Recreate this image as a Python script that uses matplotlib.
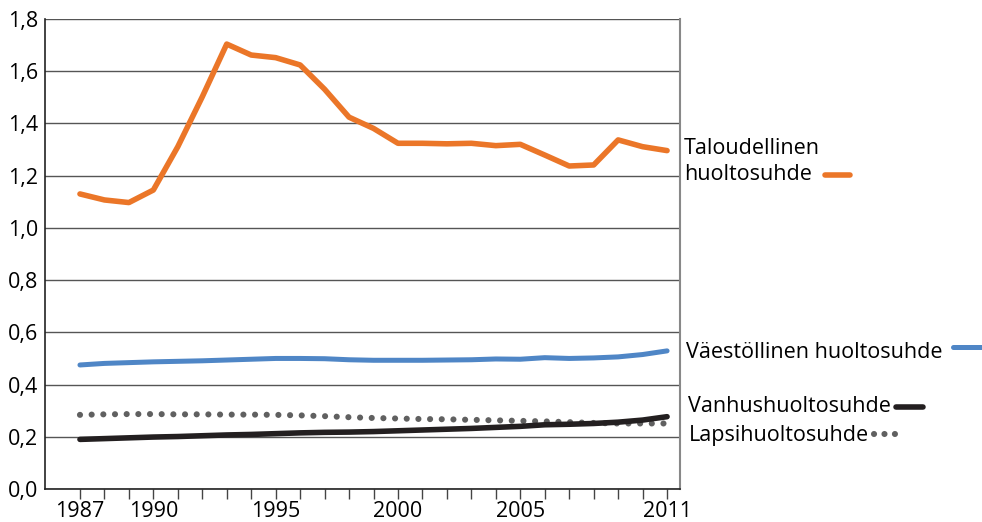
import matplotlib.pyplot as plt
import numpy as np

plt.rcParams['font.family'] = ['Open Sans', 'DejaVu Sans']

years = np.arange(1987, 2012)
taloudellinen = [1.130, 1.107, 1.097, 1.145, 1.311, 1.502, 1.704, 1.662, 1.652, 1.624,
                 1.531, 1.424, 1.381, 1.324, 1.324, 1.322, 1.324, 1.315, 1.320, 1.279,
                 1.237, 1.241, 1.337, 1.311, 1.296]
vaestollinen = [0.475, 0.481, 0.484, 0.487, 0.489, 0.491, 0.494, 0.497, 0.500, 0.500,
                0.499, 0.495, 0.493, 0.493, 0.493, 0.494, 0.495, 0.498, 0.497, 0.503,
                0.500, 0.502, 0.506, 0.515, 0.529]
vanhus = [0.190, 0.193, 0.196, 0.199, 0.201, 0.204, 0.207, 0.209, 0.212, 0.215,
          0.217, 0.218, 0.220, 0.223, 0.226, 0.229, 0.232, 0.236, 0.240, 0.246,
          0.248, 0.251, 0.256, 0.264, 0.277]
lapsi = [0.284, 0.286, 0.287, 0.287, 0.286, 0.286, 0.285, 0.285, 0.284, 0.282,
         0.279, 0.275, 0.272, 0.270, 0.268, 0.267, 0.265, 0.263, 0.261, 0.259,
         0.256, 0.253, 0.251, 0.251, 0.251]
year_labels = [1987, 1990, 1995, 2000, 2005, 2011]
y_ticks = [0.0, 0.2, 0.4, 0.6, 0.8, 1.0, 1.2, 1.4, 1.6, 1.8]

c_orange = '#EB7628'
c_blue = '#4F86C6'
c_black = '#231F20'
c_dot = '#606060'
dots = (0, (0.01, 1.9))
fs = 15.5

fig = plt.figure(figsize=(9.82, 5.22), dpi=100)
ax = fig.add_axes([0.0458, 0.0632, 0.6467, 0.9004])

ax.plot(years, lapsi, color=c_dot, lw=4.4, ls=dots, dash_capstyle='round', zorder=3)
ax.plot(years, vanhus, color=c_black, lw=4.0, solid_capstyle='round', zorder=4)
ax.plot(years, vaestollinen, color=c_blue, lw=3.6, solid_capstyle='round', zorder=4)
ax.plot(years, taloudellinen, color=c_orange, lw=4.0, solid_capstyle='round', zorder=4)

ax.set_xlim(1985.57, 2011.53)
ax.set_ylim(0, 1.8)
ax.set_yticks(y_ticks)
ax.set_yticklabels([f'{v:.1f}'.replace('.', ',') for v in y_ticks], fontsize=fs)
ax.set_xticks(years)
ax.set_xticklabels([str(y) if y in year_labels else '' for y in years], fontsize=fs)
ax.tick_params(axis='x', direction='out', length=7, width=1, color='#444444', pad=1.5)
ax.tick_params(axis='y', length=0, pad=5)
ax.yaxis.grid(True, color='#555555', lw=1)
ax.set_axisbelow(True)
for s in ['left', 'bottom']:
    ax.spines[s].set_color('#222222')
    ax.spines[s].set_linewidth(1.2)
ax.spines['top'].set_visible(False)
ax.spines['right'].set_color('#888888')
ax.spines['right'].set_linewidth(1.5)

# labels to the right of the plot
W, H = 982.0, 522.0
fig.text(684 / W, 1 - 148 / H, 'Taloudellinen', fontsize=fs, va='center')
fig.text(684 / W, 1 - 175 / H, 'huoltosuhde', fontsize=fs, va='center')
fig.text(686 / W, 1 - 352 / H, 'Väestöllinen huoltosuhde', fontsize=fs, va='center')
fig.text(688 / W, 1 - 407 / H, 'Vanhushuoltosuhde', fontsize=fs, va='center')
fig.text(689 / W, 1 - 435 / H, 'Lapsihuoltosuhde', fontsize=fs, va='center')

fig.add_artist(plt.Line2D([825 / W, 850 / W], [1 - 175 / H] * 2, color=c_orange, lw=4.0,
                          solid_capstyle='round'))
fig.add_artist(plt.Line2D([953 / W, 982 / W], [1 - 347 / H] * 2, color=c_blue, lw=3.6,
                          solid_capstyle='round'))
fig.add_artist(plt.Line2D([896 / W, 923 / W], [1 - 407 / H] * 2, color=c_black, lw=4.0,
                          solid_capstyle='round'))
fig.add_artist(plt.Line2D([874 / W, 903 / W], [1 - 434 / H] * 2, color=c_dot, lw=4.4,
                          ls=(0, (0.01, 1.7)), dash_capstyle='round'))

plt.savefig('out.png', dpi=100)
